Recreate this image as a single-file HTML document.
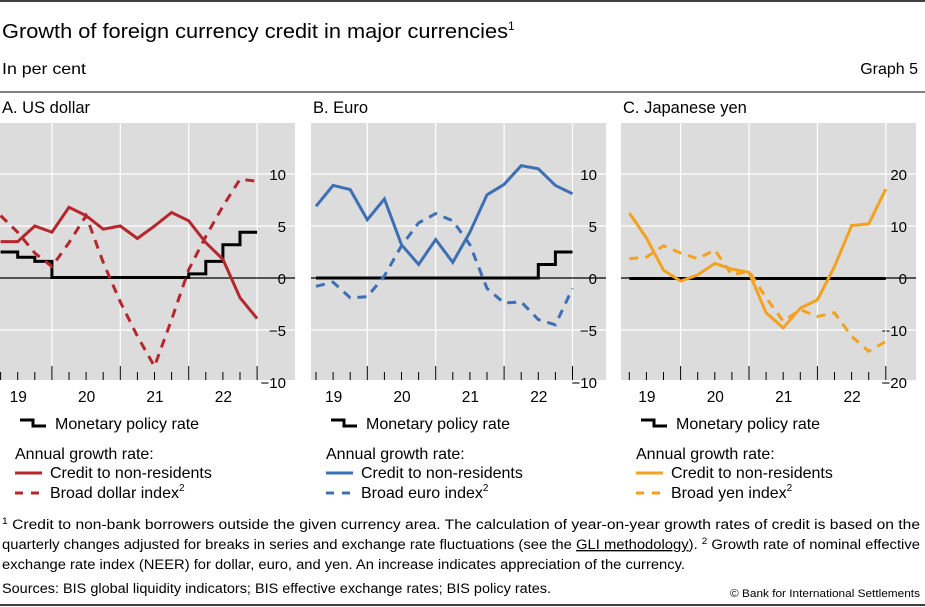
<!DOCTYPE html>
<html><head><meta charset="utf-8">
<style>
html,body{margin:0;padding:0;background:#fff;}
svg{display:block;font-family:"Liberation Sans",sans-serif;}
</style></head>
<body>
<svg id="chart" width="925" height="607" xmlns="http://www.w3.org/2000/svg">
<line x1="0" y1="1" x2="925" y2="1" stroke="#000" stroke-width="1.5"/>
<text x="2" y="38" font-size="20"><tspan textLength="506" lengthAdjust="spacingAndGlyphs">Growth of foreign currency credit in major currencies</tspan><tspan font-size="12" dy="-8">1</tspan></text>
<text x="2" y="74" font-size="16" textLength="84" lengthAdjust="spacingAndGlyphs">In per cent</text>
<text x="918" y="74" font-size="16" text-anchor="end">Graph 5</text>
<line x1="0" y1="92" x2="925" y2="92" stroke="#000" stroke-width="1"/>
<g id="panels"></g>
<g font-size="13.5">
<text x="2" y="529" textLength="918" lengthAdjust="spacingAndGlyphs"><tspan font-size="9" dy="-5">1</tspan><tspan dy="5">  Credit to non-bank borrowers outside the given currency area. The calculation of year-on-year growth rates of credit is based on the</tspan></text>
<text x="2" y="549" textLength="918" lengthAdjust="spacingAndGlyphs">quarterly changes adjusted for breaks in series and exchange rate fluctuations (see the <tspan text-decoration="underline">GLI methodology</tspan>).   <tspan font-size="9" dy="-5">2</tspan><tspan dy="5">  Growth rate of nominal effective</tspan></text>
<text x="2" y="569" textLength="683" lengthAdjust="spacingAndGlyphs">exchange rate index (NEER) for dollar, euro, and yen. An increase indicates appreciation of the currency.</text>
<text x="2" y="593" textLength="549" lengthAdjust="spacingAndGlyphs">Sources: BIS global liquidity indicators; BIS effective exchange rates; BIS policy rates.</text>
<text x="920" y="597" font-size="11" text-anchor="end" textLength="190" lengthAdjust="spacingAndGlyphs">© Bank for International Settlements</text>
</g>
<line x1="0" y1="605" x2="925" y2="605" stroke="#000" stroke-width="1.5"/>
</svg>
<script>
const yearLabels = ["19","20","21","22"];
const usdCredit = [3.5,3.5,5,4.4,6.8,6,4.7,5,3.8,5,6.3,5.5,3.4,1.8,-1.9,-3.9];
const usdIndex = [6,4.4,2.4,1.1,3.4,6,1.5,-2.3,-5.6,-8.5,-4,0.8,4,6.9,9.5,9.3];
const usdPolicy = [2.5,2,1.6,0.05,0.05,0.05,0.05,0.05,0.05,0.05,0.05,0.4,1.6,3.2,4.4,4.4];
const eurCredit = [6.9,8.9,8.5,5.6,7.6,3.2,1.3,3.7,1.5,4.4,8,9,10.8,10.5,8.9,8.1];
const eurIndex = [-0.8,-0.4,-1.9,-1.8,0.2,3.1,5.3,6.2,5.5,3.2,-1,-2.4,-2.3,-4,-4.5,-1];
const eurPolicy = [0,0,0,0,0,0,0,0,0,0,0,0,0,1.3,2.5,2.5];
const jpyCredit = [12.5,7.7,1.5,-0.6,0.6,2.8,1.7,1.1,-6.7,-9.6,-5.8,-4.2,2.2,10.1,10.4,17.1];
const jpyIndex = [3.7,4,6.2,4.8,3.7,5.4,0.6,1.3,-3.8,-8.3,-6.1,-7.4,-6.7,-11.2,-14.1,-12.2];
const jpyPolicy = [-0.1,-0.1,-0.1,-0.1,-0.1,-0.1,-0.1,-0.1,-0.1,-0.1,-0.1,-0.1,-0.1,-0.1,-0.1,-0.1];
const usdTicks = [10,5,0,-5,-10];
const eurTicks = [10,5,0,-5,-10];
const jpyTicks = [20,10,0,-10,-20];

const NS="http://www.w3.org/2000/svg";
const root=document.getElementById('panels');
function mk(tag,attrs,parent){const e=document.createElementNS(NS,tag);for(const k in attrs)e.setAttribute(k,attrs[k]);(parent||root).appendChild(e);return e;}

const panels=[
 {left:0,first:0.6,title:"A. US dollar",ticks:usdTicks,credit:usdCredit,index:usdIndex,policy:usdPolicy,color:"#b5272d",idx:"Broad dollar index",key:"usd"},
 {left:311,first:316,title:"B. Euro",ticks:eurTicks,credit:eurCredit,index:eurIndex,policy:eurPolicy,color:"#3d6fb4",idx:"Broad euro index",key:"eur"},
 {left:621,first:629.3,title:"C. Japanese yen",ticks:jpyTicks,credit:jpyCredit,index:jpyIndex,policy:jpyPolicy,color:"#f2a21f",idx:"Broad yen index",key:"jpy"}
];
const dx=17.1, zeroY=278, plotTop=123, plotBot=380, plotW=295;

panels.forEach(p=>{
 const g=mk('g',{});
 
 
 const ppu=104/p.ticks[0];
 const xs=i=>p.first+i*dx;
 const ys=v=>zeroY-v*ppu;
 const t=mk('text',{x:p.left+2,y:113,'font-size':16.5},g);t.textContent=p.title;
 
 
 const bg=mk('rect',{x:p.left,y:plotTop,width:plotW,height:plotBot-plotTop,fill:'#dcdcdc'},g);
 
 
 p.ticks.forEach(v=>{
  if(v!==0 && v!==p.ticks[4]) mk('line',{x1:p.left,x2:p.left+plotW,y1:ys(v),y2:ys(v),stroke:'#fff','stroke-width':1.2},g);
  const tl=mk('text',{x:p.left+286,y:ys(v)+6,'font-size':15,'text-anchor':'end'},g);
  tl.textContent=v<0?'\u2212'+Math.abs(v):String(v);
  
  
 });
 for(let y=1;y<=4;y++){
  const x=xs(y*4-1);
  mk('line',{x1:x,x2:x,y1:plotTop,y2:plotBot,stroke:'#fff','stroke-width':1.2},g);
 }
 for(let i=-1;i<16;i++){
  const x=xs(i); const major=((i+1)%4===0);
  if(x<p.left) continue;
  mk('line',{x1:x,x2:x,y1:major?366:372,y2:380,stroke:'#000','stroke-width':1},g);
 }
 yearLabels.forEach((lab,k)=>{
  const tx=mk('text',{x:xs(k*4)+9,y:402,'font-size':15.5},g);
  tx.textContent=lab;
  
  
 });
 mk('line',{x1:p.left,x2:p.left+plotW,y1:zeroY,y2:zeroY,stroke:'#000','stroke-width':1.2},g);
 let d='';
 p.policy.forEach((v,i)=>{
  if(i===0) d+='M'+xs(0)+','+ys(v);
  else d+=' H'+xs(i)+' V'+ys(v);
 });
 const pol=mk('path',{d:d,fill:'none',stroke:'#000','stroke-width':3},g);
 
 
 const idx=mk('polyline',{points:p.index.map((v,i)=>xs(i)+','+ys(v)).join(' '),fill:'none',stroke:p.color,'stroke-width':3,'stroke-dasharray':'9,7'},g);
 
 
 const cr=mk('polyline',{points:p.credit.map((v,i)=>xs(i)+','+ys(v)).join(' '),fill:'none',stroke:p.color,'stroke-width':3},g);
 
 
 const L=p.left;
 const lg=mk('g',{},g);
 
 
 mk('path',{d:`M${L+20},420 H${L+33} V426 H${L+46}`,fill:'none',stroke:'#000','stroke-width':3},lg);
 let tt=mk('text',{x:L+55,y:429,'font-size':16},lg);tt.textContent='Monetary policy rate';
 tt=mk('text',{x:L+15,y:459,'font-size':16},lg);tt.textContent='Annual growth rate:';
 mk('line',{x1:L+15,x2:L+42,y1:473,y2:473,stroke:p.color,'stroke-width':3},lg);
 tt=mk('text',{x:L+50,y:478,'font-size':16},lg);tt.textContent='Credit to non-residents';
 mk('line',{x1:L+15,x2:L+42,y1:493,y2:493,stroke:p.color,'stroke-width':3,'stroke-dasharray':'8,8'},lg);
 tt=mk('text',{x:L+50,y:498,'font-size':16},lg);tt.textContent=p.idx;
 const sp=mk('tspan',{'font-size':10,dy:-7},tt);sp.textContent='2';
});
</script>
</body></html>
